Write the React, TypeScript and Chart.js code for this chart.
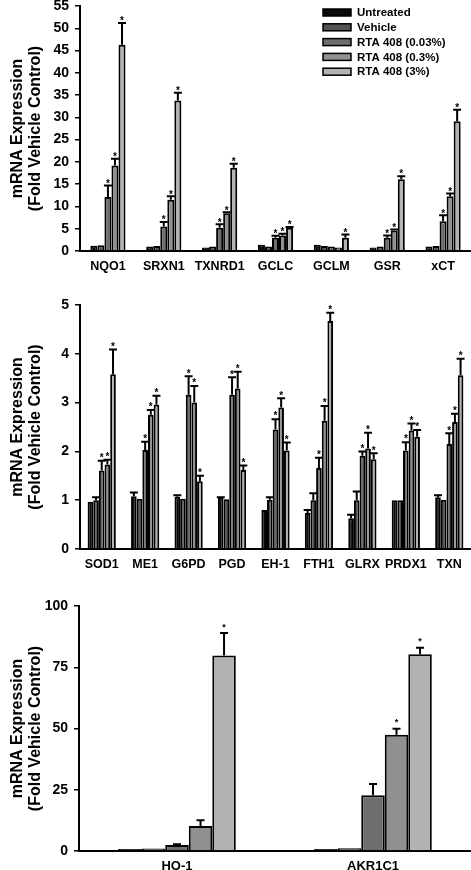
import React, { useEffect, useRef } from 'react';
import { Chart, registerables } from 'chart.js';

Chart.register(...registerables);
Chart.defaults.font.family = "'Liberation Sans', Arial, Helvetica, sans-serif";
Chart.defaults.color = '#000';

// ---------- shared ----------
const seriesLabels = ['Untreated', 'Vehicle', 'RTA 408 (0.03%)', 'RTA 408 (0.3%)', 'RTA 408 (3%)'];
const seriesColors = ['#0a0a0a', '#525252', '#6e6e6e', '#909090', '#b2b2b2'];
const yTitle = ['mRNA Expression', '(Fold Vehicle Control)'];

// ---------- panel 1 ----------
const categories1 = ['NQO1', 'SRXN1', 'TXNRD1', 'GCLC', 'GCLM', 'GSR', 'xCT'];
const untreated1 = [1.2, 1.0, 0.8, 1.4, 1.4, 0.8, 1.0];
const vehicle1 = [1.3, 1.1, 1.0, 1.0, 1.1, 1.0, 1.1];
const low1 = [12.1, 5.5, 5.2, 3.0, 1.0, 3.0, 6.7];
const mid1 = [19.2, 11.5, 8.5, 3.5, 0.8, 4.6, 12.3];
const high1 = [46.3, 33.8, 18.7, 5.2, 3.0, 16.1, 29.1];
const untreatedErr1 = [0, 0, 0, 0, 0, 0, 0];
const vehicleErr1 = [0, 0, 0, 0, 0, 0, 0];
const lowErr1 = [2.6, 1.0, 0.8, 0.4, 0, 0.5, 1.3];
const midErr1 = [1.5, 0.8, 0.2, 0.4, 0, 0.2, 0.6];
const highErr1 = [4.9, 1.7, 0.9, 0.2, 0.7, 0.7, 2.6];
const lowSig1 = [1, 1, 1, 1, 0, 1, 1];
const midSig1 = [1, 1, 1, 1, 0, 1, 1];
const highSig1 = [1, 1, 1, 1, 1, 1, 1];
const yTicks1 = { max: 55, step: 5 };

// ---------- panel 2 ----------
const categories2 = ['SOD1', 'ME1', 'G6PD', 'PGD', 'EH-1', 'FTH1', 'GLRX', 'PRDX1', 'TXN'];
const untreated2 = [0.97, 1.08, 1.07, 1.05, 0.8, 0.74, 0.63, 1.0, 1.06];
const vehicle2 = [1.0, 1.03, 1.03, 1.02, 1.01, 1.0, 1.0, 1.0, 1.01];
const low2 = [1.61, 2.03, 3.16, 3.16, 2.45, 1.66, 1.91, 2.02, 2.15];
const mid2 = [1.73, 2.75, 3.0, 3.29, 2.9, 2.63, 2.06, 2.43, 2.6];
const high2 = [3.58, 2.96, 1.39, 1.62, 2.02, 4.67, 1.84, 2.3, 3.56];
const untreatedErr2 = [0, 0.08, 0.03, 0.01, 0, 0.06, 0.07, 0, 0.04];
const vehicleErr2 = [0.06, 0, 0, 0, 0.05, 0.14, 0.18, 0, 0];
const lowErr2 = [0.2, 0.17, 0.38, 0.36, 0.21, 0.21, 0.09, 0.17, 0.22];
const midErr2 = [0.1, 0.1, 0.34, 0.34, 0.19, 0.3, 0.32, 0.14, 0.17];
const highErr2 = [0.51, 0.18, 0.11, 0.09, 0.16, 0.17, 0.12, 0.14, 0.34];
const lowSig2 = [1, 1, 1, 1, 1, 1, 1, 1, 1];
const midSig2 = [1, 1, 1, 1, 1, 1, 1, 1, 1];
const highSig2 = [1, 1, 1, 1, 1, 1, 1, 1, 1];
const yTicks2 = { max: 5, step: 1 };

// ---------- panel 3 ----------
const categories3 = ['HO-1', 'AKR1C1'];
const untreated3 = [0.8, 0.8];
const vehicle3 = [1.0, 1.1];
const low3 = [2.4, 22.8];
const mid3 = [10.2, 47.4];
const high3 = [79.8, 80.3];
const untreatedErr3 = [0, 0];
const vehicleErr3 = [0, 0];
const lowErr3 = [0.4, 4.5];
const midErr3 = [2.4, 2.5];
const highErr3 = [9.2, 2.7];
const lowSig3 = [0, 0];
const midSig3 = [0, 1];
const highSig3 = [1, 1];
const yTicks3 = { max: 100, step: 25 };

const zeros = (n: number) => new Array(n).fill(0);

const errorBarPlugin = {
  id: 'errorBars',
  afterDatasetsDraw(chart: any, _args: any, opts: any) {
    const { ctx } = chart;
    const yScale = chart.scales.y;
    ctx.save();
    chart.data.datasets.forEach((ds: any, i: number) => {
      const meta = chart.getDatasetMeta(i);
      meta.data.forEach((bar: any, j: number) => {
        const v = ds.data[j];
        const e = ds.errors[j] || 0;
        const top = yScale.getPixelForValue(v + e);
        if (e > 0) {
          ctx.strokeStyle = '#000';
          ctx.lineWidth = 2;
          ctx.beginPath();
          ctx.moveTo(bar.x, yScale.getPixelForValue(v));
          ctx.lineTo(bar.x, top);
          ctx.moveTo(bar.x - opts.cap / 2, top);
          ctx.lineTo(bar.x + opts.cap / 2, top);
          ctx.stroke();
        }
        if (ds.stars[j]) {
          const fs = opts.starSize;
          ctx.fillStyle = '#000';
          ctx.font = `bold ${fs}px 'Liberation Sans', Arial, sans-serif`;
          ctx.textAlign = 'center';
          ctx.textBaseline = 'alphabetic';
          ctx.fillText('*', bar.x, top - opts.starGap + 0.58 * fs);
        }
      });
    });
    ctx.restore();
  },
};

const legendPlugin = {
  id: 'boxLegend',
  afterDraw(chart: any, _args: any, opts: any) {
    if (!opts.show) return;
    const { ctx } = chart;
    ctx.save();
    seriesLabels.forEach((label, i) => {
      const cy = opts.y + i * opts.dy;
      ctx.fillStyle = seriesColors[i];
      ctx.fillRect(opts.x, cy - 3.5, 28, 7);
      ctx.strokeStyle = '#000';
      ctx.lineWidth = 1.5;
      ctx.strokeRect(opts.x, cy - 3.5, 28, 7);
      ctx.fillStyle = '#000';
      ctx.font = "bold 11.5px 'Liberation Sans', Arial, sans-serif";
      ctx.textAlign = 'left';
      ctx.textBaseline = 'middle';
      ctx.fillText(label, opts.x + 34, cy + 0.5);
    });
    ctx.restore();
  },
};

type PanelProps = {
  top: number;
  height: number;
  chartTop: number;
  chartBottom: number;
  chartLeft: number;
  categories: string[];
  values: number[][];
  errors: number[][];
  stars: number[][];
  yMax: number;
  yStep: number;
  catPct: number;
  xFont: number;
  xPad: number;
  cap: number;
  starSize: number;
  starGap: number;
  legend: boolean;
};

function Panel(p: PanelProps) {
  const ref = useRef<HTMLCanvasElement | null>(null);
  useEffect(() => {
    if (!ref.current) return;
    const chart = new Chart(ref.current, {
      type: 'bar',
      data: {
        labels: p.categories,
        datasets: p.values.map((vals, i) => ({
          label: seriesLabels[i],
          data: vals,
          errors: p.errors[i],
          stars: p.stars[i],
          backgroundColor: seriesColors[i],
          borderColor: '#000',
          borderWidth: 2,
          categoryPercentage: p.catPct,
          barPercentage: 1,
        })) as any,
      },
      options: {
        animation: false,
        responsive: false,
        maintainAspectRatio: false,
        devicePixelRatio: 1,
        events: [],
        layout: { padding: { top: p.chartTop, right: 0, bottom: 0, left: 0 } },
        plugins: {
          legend: { display: false },
          tooltip: { enabled: false },
          errorBars: { cap: p.cap, starSize: p.starSize, starGap: p.starGap },
          boxLegend: { show: p.legend, x: 323, y: 12.5, dy: 14.8 },
        } as any,
        scales: {
          x: {
            grid: { display: false, drawTicks: false },
            border: { display: true, color: '#000', width: 2 },
            ticks: {
              color: '#000',
              font: { size: p.xFont, weight: 'bold' },
              padding: p.xPad,
              autoSkip: false,
              maxRotation: 0,
            },
            afterFit: (s: any) => {
              s.height = p.height - p.chartBottom;
              s.paddingLeft = 0;
              s.paddingRight = 0;
            },
          },
          y: {
            min: 0,
            max: p.yMax,
            ticks: {
              stepSize: p.yStep,
              color: '#000',
              font: { size: 14, weight: 'bold' },
              padding: 6,
            },
            grid: {
              display: true,
              drawOnChartArea: false,
              drawTicks: true,
              tickLength: 5,
              color: '#000',
              lineWidth: 1.5,
            },
            border: { display: true, color: '#000', width: 2 },
            title: {
              display: true,
              text: yTitle,
              color: '#000',
              font: { size: 16, weight: 'bold', lineHeight: 1.12 },
              padding: { top: 9, bottom: 0 },
            },
            afterFit: (s: any) => {
              s.width = p.chartLeft;
              s.paddingTop = 0;
              s.paddingBottom = 0;
            },
          },
        },
      } as any,
      plugins: [errorBarPlugin, legendPlugin],
    });
    return () => chart.destroy();
  }, []);
  return (
    <canvas
      ref={ref}
      width={471}
      height={p.height}
      style={{ position: 'absolute', left: 0, top: p.top, width: 471, height: p.height, display: 'block' }}
    />
  );
}

export default function App() {
  return (
    <div style={{ position: 'absolute', left: 0, top: 0, width: 471, height: 870, background: '#fff', overflow: 'hidden' }}>
      <Panel
        top={0}
        height={290}
        chartTop={6}
        chartBottom={251}
        chartLeft={80}
        categories={categories1}
        values={[untreated1, vehicle1, low1, mid1, high1]}
        errors={[untreatedErr1, vehicleErr1, lowErr1, midErr1, highErr1]}
        stars={[zeros(7), zeros(7), lowSig1, midSig1, highSig1]}
        yMax={yTicks1.max}
        yStep={yTicks1.step}
        catPct={0.63}
        xFont={12.5}
        xPad={8}
        cap={8}
        starSize={10}
        starGap={4.5}
        legend={true}
      />
      <Panel
        top={290}
        height={300}
        chartTop={15}
        chartBottom={259}
        chartLeft={80}
        categories={categories2}
        values={[untreated2, vehicle2, low2, mid2, high2]}
        errors={[untreatedErr2, vehicleErr2, lowErr2, midErr2, highErr2]}
        stars={[zeros(9), zeros(9), lowSig2, midSig2, highSig2]}
        yMax={yTicks2.max}
        yStep={yTicks2.step}
        catPct={0.65}
        xFont={12.5}
        xPad={8}
        cap={8}
        starSize={10}
        starGap={5.5}
        legend={false}
      />
      <Panel
        top={590}
        height={280}
        chartTop={16}
        chartBottom={261}
        chartLeft={79}
        categories={categories3}
        values={[untreated3, vehicle3, low3, mid3, high3]}
        errors={[untreatedErr3, vehicleErr3, lowErr3, midErr3, highErr3]}
        stars={[zeros(2), zeros(2), lowSig3, midSig3, highSig3]}
        yMax={yTicks3.max}
        yStep={yTicks3.step}
        catPct={0.6}
        xFont={13}
        xPad={8}
        cap={8}
        starSize={9}
        starGap={8.5}
        legend={false}
      />
    </div>
  );
}
